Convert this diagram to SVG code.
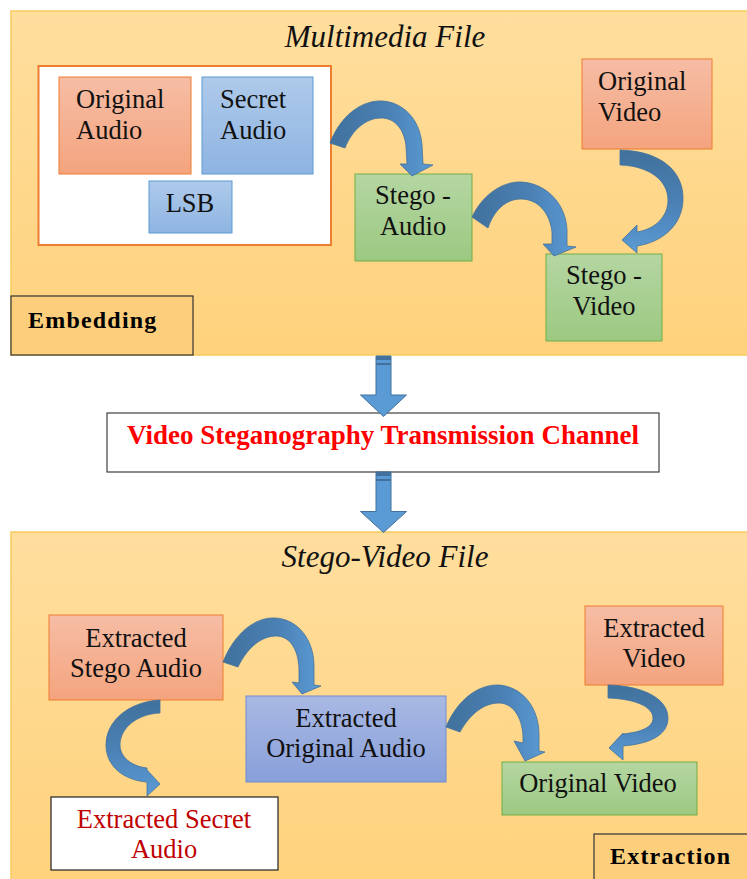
<svg xmlns="http://www.w3.org/2000/svg" width="747" height="879" viewBox="0 0 747 879">
<defs>
<linearGradient id="gPanel" x1="0" y1="0" x2="0" y2="1"><stop offset="0" stop-color="#FFDE9E"/><stop offset="1" stop-color="#FFD27C"/></linearGradient>
<linearGradient id="gOrange" x1="0" y1="0" x2="0" y2="1"><stop offset="0" stop-color="#F6BDA5"/><stop offset="1" stop-color="#F4A47E"/></linearGradient>
<linearGradient id="gBlue" x1="0" y1="0" x2="0" y2="1"><stop offset="0" stop-color="#AECAEA"/><stop offset="1" stop-color="#8EB4E2"/></linearGradient>
<linearGradient id="gGreen" x1="0" y1="0" x2="0" y2="1"><stop offset="0" stop-color="#B5D6A2"/><stop offset="1" stop-color="#9CC982"/></linearGradient>
<linearGradient id="gPurple" x1="0" y1="0" x2="0" y2="1"><stop offset="0" stop-color="#A9B9E4"/><stop offset="1" stop-color="#889FD9"/></linearGradient>
<linearGradient id="gArrH" x1="0" y1="0" x2="1" y2="0"><stop offset="0" stop-color="#41719C"/><stop offset="0.55" stop-color="#4A80B4"/><stop offset="1" stop-color="#5B9BD5"/></linearGradient>
<linearGradient id="gArrV" x1="0" y1="0" x2="0" y2="1"><stop offset="0" stop-color="#41719C"/><stop offset="0.5" stop-color="#4A80B4"/><stop offset="1" stop-color="#5B9BD5"/></linearGradient>
<style>
.panel{fill:url(#gPanel);stroke:#F8CC5E;stroke-width:1.5}
.orange{fill:url(#gOrange);stroke:#ED7D31;stroke-width:1}
.blue{fill:url(#gBlue);stroke:#5B9BD5;stroke-width:1}
.green{fill:url(#gGreen);stroke:#70AD47;stroke-width:1}
.purple{fill:url(#gPurple);stroke:#6F8CCF;stroke-width:1}
.lbl{font-family:"Liberation Serif","Times New Roman",serif;font-size:26.5px;fill:#111}
.mid{text-anchor:middle}
.title{font-family:"Liberation Serif","Times New Roman",serif;font-size:31px;font-style:italic;fill:#111;text-anchor:middle}
.tag{fill:#FDCF7C;stroke:#333;stroke-width:1.2}
.tagt{font-family:"Liberation Serif","Times New Roman",serif;font-size:24px;font-weight:bold;letter-spacing:1.2px;fill:#000}
.arrH{fill:url(#gArrH);stroke:#41719C;stroke-width:0.8}
.arrV{fill:url(#gArrV);stroke:#41719C;stroke-width:0.8}
.down{fill:#5B9BD5;stroke:#41719C;stroke-width:1}
</style>
</defs>
<rect width="747" height="879" fill="#FFFFFF"/>

<g id="panel-embedding">
<rect class="panel" x="11" y="11" width="745" height="344"/>
<text class="title" x="385" y="47">Multimedia File</text>
</g>
<g id="panel-extraction">
<rect class="panel" x="11" y="532" width="745" height="360"/>
<text class="title" x="385" y="567">Stego-Video File</text>
</g>

<g id="audio-group">
<rect x="38.5" y="66" width="292.5" height="179" fill="#FFFFFF" stroke="#ED7D31" stroke-width="2"/>
</g>
<g id="original-audio">
<rect class="orange" x="59" y="77" width="132" height="97"/>
<text class="lbl" x="76" y="108">Original</text>
<text class="lbl" x="76" y="139">Audio</text>
</g>
<g id="secret-audio">
<rect class="blue" x="202" y="77" width="111" height="97"/>
<text class="lbl" x="220" y="108">Secret</text>
<text class="lbl" x="220" y="139">Audio</text>
</g>
<g id="lsb">
<rect class="blue" x="149" y="181" width="83" height="52"/>
<text class="lbl mid" x="190" y="212">LSB</text>
</g>
<g id="original-video">
<rect class="orange" x="582" y="59" width="130" height="90"/>
<text class="lbl" x="598" y="90">Original</text>
<text class="lbl" x="598" y="121">Video</text>
</g>
<g id="stego-audio">
<rect class="green" x="355" y="174" width="117" height="87"/>
<text class="lbl mid" x="413" y="204">Stego -</text>
<text class="lbl mid" x="413" y="235">Audio</text>
</g>
<g id="stego-video">
<rect class="green" x="546" y="254" width="116" height="87"/>
<text class="lbl mid" x="604" y="284">Stego -</text>
<text class="lbl mid" x="604" y="315">Video</text>
</g>
<g id="embedding-label">
<rect class="tag" x="11" y="296" width="182" height="59"/>
<text class="tagt" x="28" y="328">Embedding</text>
</g>

<g id="transmission-channel">
<rect x="107" y="413" width="552" height="59" fill="#FFFFFF" stroke="#404040" stroke-width="1.2"/>
<text x="383" y="444" text-anchor="middle" font-family="'Liberation Serif','Times New Roman',serif" font-size="27" font-weight="bold" fill="#FF0000">Video Steganography Transmission Channel</text>
</g>

<g id="extracted-stego-audio">
<rect class="orange" x="49" y="615" width="174" height="85"/>
<text class="lbl mid" x="136" y="647">Extracted</text>
<text class="lbl mid" x="136" y="677">Stego Audio</text>
</g>
<g id="extracted-original-audio">
<rect class="purple" x="246" y="696" width="200" height="86"/>
<text class="lbl mid" x="346" y="727">Extracted</text>
<text class="lbl mid" x="346" y="757">Original Audio</text>
</g>
<g id="extracted-secret-audio">
<rect x="51" y="797" width="227" height="73" fill="#FFFFFF" stroke="#222" stroke-width="1.2"/>
<text class="lbl mid" x="164" y="828" style="fill:#C00000">Extracted Secret</text>
<text class="lbl mid" x="164" y="858" style="fill:#C00000">Audio</text>
</g>
<g id="extracted-video">
<rect class="orange" x="585" y="606" width="138" height="79"/>
<text class="lbl mid" x="654" y="637">Extracted</text>
<text class="lbl mid" x="654" y="667">Video</text>
</g>
<g id="original-video-out">
<rect class="green" x="502" y="762" width="195" height="53"/>
<text class="lbl mid" x="598" y="792">Original Video</text>
</g>
<g id="extraction-label">
<rect class="tag" x="594" y="834" width="160" height="50"/>
<text class="tagt" x="610" y="864">Extraction</text>
</g>

<g id="connectors">
<path class="down" d="M376,356 H391 V395 H406.5 L383.5,416.5 L360.5,395 H376 Z"/>
<rect x="376" y="356" width="15" height="4" fill="#41719C"/>
<rect x="376" y="363" width="15" height="2" fill="#41719C"/>
<path class="down" d="M376,472 H391 V511.5 H406.5 L383.5,532.5 L360.5,511.5 H376 Z"/>
<rect x="376" y="472" width="15" height="4" fill="#41719C"/>
<rect x="376" y="479" width="15" height="2" fill="#41719C"/>

<path class="arrH" d="M330,143 C342,112 365,100 382,101 C402,102 420,118 422,145 L423,164 L433,165 L412,176 L400,164 L407,164 L406,146 C404,128 394,118 381,118 C366,118 352,130 345,148 Z"/>
<path class="arrH" d="M472,217 C484,192 505,181 522,182 C548,184 566,205 567,230 L567,246 L576,247 L554,256 L543,244 L552,244 L552,232 C550,213 538,199 521,199 C506,199 494,210 488,228 Z"/>
<path class="arrV" d="M620,150 C662,151 684,172 683,200 C682,226 662,242 637,246 L637,253 L622,240 L637,225 L637,232 C656,229 668,216 668,200 C668,181 650,166 620,165 Z"/>

<path class="arrH" d="M223,662 C235,632 256,617 275,618 C298,619 314,640 314,666 L314,685 L321,686 L302,694 L292,682 L299,683 L299,668 C298,648 289,636 276,636 C260,636 246,650 238,667 Z"/>
<path class="arrV" d="M160,700 C127,702 106,722 106,745 C106,766 123,780 147,782 L147,796 L160,784 L147,770 L147,768 C130,766 120,756 120,745 C120,728 137,714 160,713 Z"/>
<path class="arrH" d="M446,727 C458,698 480,684 499,685 C523,687 539,708 539,735 L539,751 L545,752 L525,761 L514,741 L523,743 L523,736 C522,716 512,703 499,703 C484,703 470,714 460,732 Z"/>
<path class="arrV" d="M608,685 C646,686 668,700 668,718 C668,736 648,744 623,746 L623,760 L609,748 L623,733 L623,734 C642,732 653,727 653,718 C653,707 636,699 608,698 Z"/>
</g>
</svg>
